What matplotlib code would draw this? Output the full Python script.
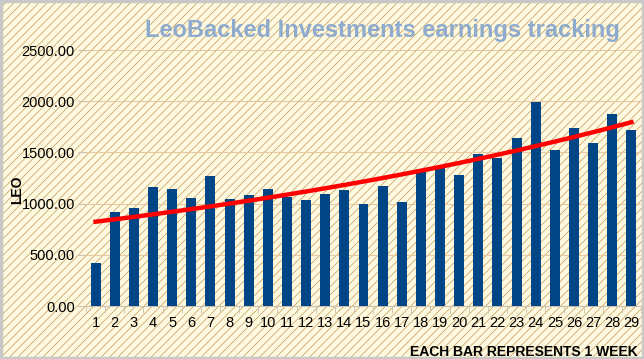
import numpy as np
import matplotlib
matplotlib.use('Agg')
import matplotlib.pyplot as plt
from matplotlib.patches import Rectangle

weeks = list(range(1, 30))
earnings = [420, 921, 960, 1160, 1140, 1052, 1267, 1042, 1081, 1140,
            1061, 1032, 1091, 1130, 993, 1169, 1012, 1310, 1356, 1277,
            1483, 1444, 1640, 1993, 1522, 1738, 1591, 1875, 1718]
yticks = [0, 500, 1000, 1500, 2000, 2500]

plt.rcParams['font.family'] = ['Liberation Sans Narrow', 'Liberation Sans', 'DejaVu Sans']
plt.rcParams['hatch.linewidth'] = 0.45
plt.rcParams['hatch.color'] = '#b8904c'

fig = plt.figure(figsize=(6.44, 3.59), dpi=100)
fig.patch.set_facecolor('#fff9e0')
# hatched background over the whole figure
bg = Rectangle((0, 0), 1, 1, transform=fig.transFigure, facecolor='#fff9e0',
               edgecolor='#b8904c', hatch='////', linewidth=0, zorder=-10)
fig.patches.append(bg)
border = Rectangle((0.002, 0.003), 0.996, 0.994, transform=fig.transFigure, fill=False,
                   edgecolor='#c8c8c8', linewidth=2.5, zorder=10)
fig.patches.append(border)

ax = fig.add_axes([86/644, 1 - 306/359, (641 - 86)/644, (306 - 50)/359])
ax.patch.set_alpha(0)

x = np.array(weeks)
y = np.array(earnings, dtype=float)
ax.bar(x, y, width=0.52, color='#004586', zorder=3)

# exponential trend line
b, a = np.polyfit(x, np.log(y), 1)
ax.plot(x, np.exp(a + b * x), color='#ff0000', lw=3.2, zorder=4)

ax.set_xlim(0.5, 29.5)
ax.set_ylim(0, 2500)
ax.set_yticks(yticks)
ax.set_yticklabels([f'{v:.2f}' for v in yticks], fontsize=10.5)
ax.set_xticks(x)
ax.set_xticklabels([str(w) for w in weeks], fontsize=10.5)
ax.set_xticks(np.arange(0.5, 30, 1), minor=True)
ax.tick_params(axis='x', which='major', length=0, pad=7)
ax.tick_params(axis='x', which='minor', length=5, color='#c8c0b0')
ax.tick_params(axis='y', length=6, color='#c8c0b0', pad=2)
ax.grid(axis='y', color='#e8c8a0', lw=0.8, zorder=0)
for s in ['top', 'right', 'left']:
    ax.spines[s].set_visible(False)
ax.spines['bottom'].set_color('#c8c0b0')

fig.text(620/644, 1 - 30/359, 'LeoBacked Investments earnings tracking', ha='right', va='center',
         fontsize=17, fontweight='bold', color='#8eaacc', family=['Liberation Sans', 'DejaVu Sans'])
fig.text(17/644, 1 - 190/359, 'LEO', rotation=90, ha='center', va='center',
         fontsize=10, fontweight='bold', family=['Liberation Sans', 'DejaVu Sans'])
fig.text(638/644, 1 - 352/359, 'EACH BAR REPRESENTS 1 WEEK', ha='right', va='center',
         fontsize=10, fontweight='bold', family=['Liberation Sans', 'DejaVu Sans'])

fig.savefig('out.png', dpi=100, facecolor=fig.get_facecolor())
